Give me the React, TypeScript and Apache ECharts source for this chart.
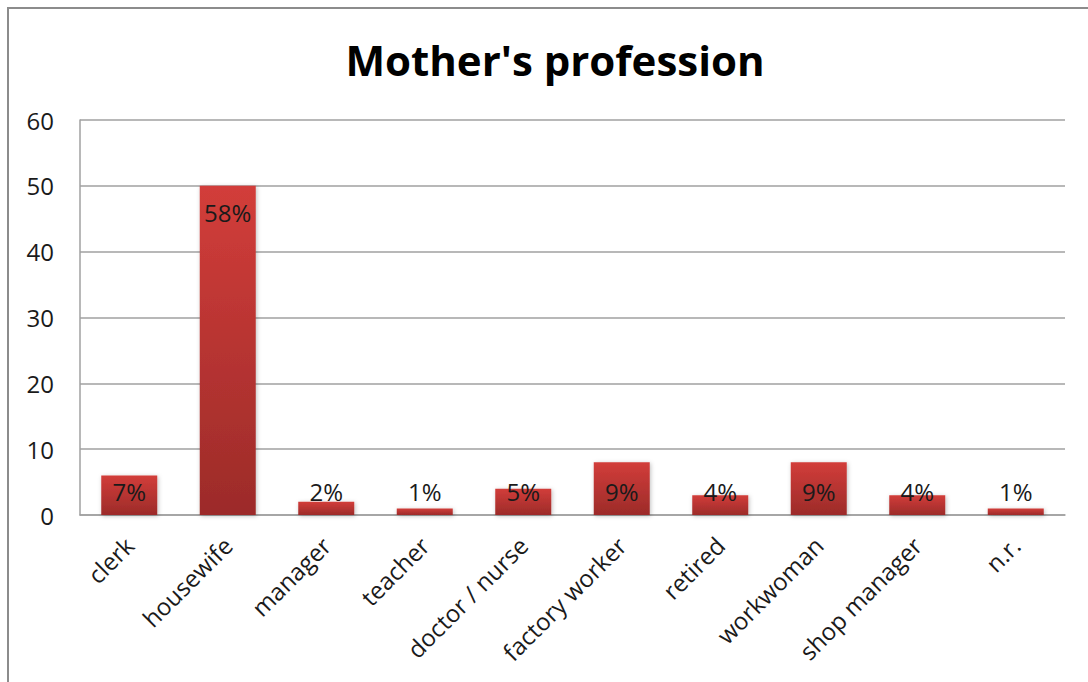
import React, { useEffect, useRef } from "react";
import * as echarts from "echarts";

const categories = [
  "clerk",
  "housewife",
  "manager",
  "teacher",
  "doctor / nurse",
  "factory worker",
  "retired",
  "workwoman",
  "shop manager",
  "n.r.",
];
const counts = [6, 50, 2, 1, 4, 8, 3, 8, 3, 1];
const percentLabels = ["7%", "58%", "2%", "1%", "5%", "9%", "4%", "9%", "4%", "1%"];
const yTicks = { min: 0, max: 60, interval: 10 };
const titleText = "Mother's profession";

const FONT = "'Open Sans', 'Noto Sans', sans-serif";

export default function App() {
  const ref = useRef<HTMLDivElement>(null);
  useEffect(() => {
    if (!ref.current) return;
    const chart = echarts.init(ref.current, null, { renderer: "svg" });
    const maxVal = Math.max(...counts);
    chart.setOption({
      animation: false,
      backgroundColor: "#ffffff",
      title: {
        text: titleText,
        left: 550,
        textAlign: "center",
        top: 33,
        textStyle: { fontFamily: FONT, fontWeight: "bold", fontSize: 42, color: "#000" },
      },
      graphic: [
        {
          type: "rect",
          shape: { x: 8, y: 8, width: 1100, height: 700 },
          style: { fill: "none", stroke: "#8c8c8c", lineWidth: 2 },
          silent: true,
        },
      ],
      grid: { left: 80, right: 23, top: 120, bottom: 167, containLabel: false },
      xAxis: {
        type: "category",
        data: categories,
        axisLine: { show: true, lineStyle: { color: "#a0a0a0", width: 1.5 } },
        axisTick: { show: false },
        axisLabel: {
          rotate: 45,
          interval: 0,
          margin: 26,
          fontFamily: FONT,
          fontSize: 24,
          color: "#1a1a1a",
        },
      },
      yAxis: {
        type: "value",
        min: yTicks.min,
        max: yTicks.max,
        interval: yTicks.interval,
        axisLine: { show: true, lineStyle: { color: "#a0a0a0", width: 1.5 } },
        axisTick: { show: false },
        splitLine: { lineStyle: { color: "#a0a0a0", width: 1.5 } },
        axisLabel: { fontFamily: FONT, fontSize: 24, color: "#1a1a1a", margin: 26 },
      },
      series: [
        {
          type: "bar",
          barWidth: 56,
          data: counts.map((v) => ({
            value: v,
            label:
              v === maxVal
                ? { position: "insideTop", distance: 15 }
                : { position: "insideBottom", distance: 12 },
          })),
          itemStyle: {
            color: new echarts.graphic.LinearGradient(0, 0, 0, 1, [
              { offset: 0, color: "#d23d3a" },
              { offset: 1, color: "#9c2b29" },
            ]),
            shadowColor: "rgba(0,0,0,0.25)",
            shadowBlur: 4,
            shadowOffsetX: 1,
            shadowOffsetY: 1,
          },
          label: {
            show: true,
            fontFamily: FONT,
            fontSize: 24,
            color: "#1a1a1a",
            formatter: (p: any) => percentLabels[p.dataIndex],
          },
        },
      ],
    });
    return () => chart.dispose();
  }, []);
  return (
    <div
      ref={ref}
      style={{ position: "absolute", left: 0, top: 0, width: 1088, height: 682 }}
    />
  );
}
